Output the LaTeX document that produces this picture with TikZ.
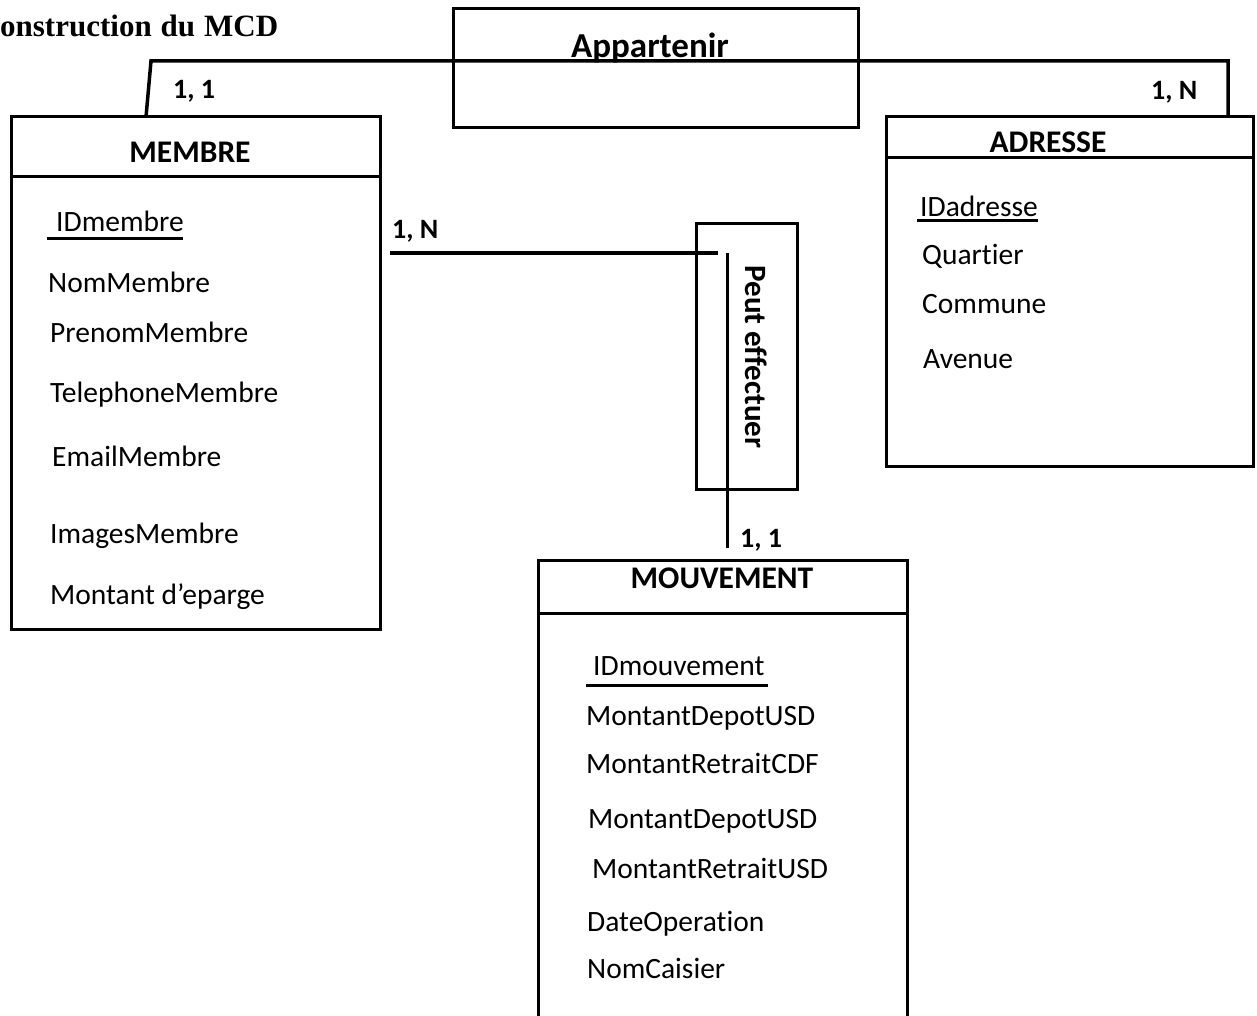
\documentclass[tikz,border=0pt]{standalone}
\usepackage{fontspec}
\setmainfont{Carlito}[Ligatures={NoCommon}]
\newfontfamily\titlefont{Liberation Serif}
\tikzset{
  ent/.style={draw, line width=3pt, inner sep=0pt, outer sep=0pt},
  hline/.style={line width=3pt},
  attr/.style={anchor=base west, inner sep=0pt, font=\fontsize{29.5}{35}\selectfont},
  hdr/.style={anchor=base, inner sep=0pt, font=\bfseries\fontsize{31.5}{37}\selectfont},
  card/.style={anchor=base west, inner sep=0pt, font=\bfseries\fontsize{28}{33}\selectfont},
  conn/.style={line width=3.5pt},
  uline/.style={line width=3pt},
}
\begin{document}
\begin{tikzpicture}[x=1pt,y=-1pt]
\clip (0,0) rectangle (1257,1016);
\fill[white] (0,0) rectangle (1257,1016);

% title
\node[anchor=base west, inner sep=0pt, font=\titlefont\bfseries\fontsize{31}{37}\selectfont] (title) at (0,37) {\spaceskip=9pt onstruction du MCD};

% association boxes
\node[ent, minimum width=405pt, minimum height=119pt] (appbox) at (655.5,68.5) {};
\node[anchor=base, inner sep=0pt, font=\bfseries\fontsize{35}{42}\selectfont] (applbl) at (650,58) {Appartenir};

\node[ent, minimum width=101pt, minimum height=265pt] (peutbox) at (746.5,356.5) {};
\node[rotate=-90, inner sep=0pt, font=\bfseries\fontsize{31}{37}\selectfont] (peutlbl) at (756,357) {Peut effectuer};

% entity boxes
\node[ent, minimum width=369pt, minimum height=512pt] (membre) at (195.5,373) {};
\draw[hline] ([yshift=-60pt]membre.north west) -- ([yshift=-60pt]membre.north east);
\node[hdr] (membrelbl) at (190,163) {MEMBRE};

\node[ent, minimum width=367pt, minimum height=349pt] (adresse) at (1069.5,291.5) {};
\draw[hline] ([yshift=-41pt]adresse.north west) -- ([yshift=-41pt]adresse.north east);
\node[hdr] (adresselbl) at (1048,153) {ADRESSE};

\node[ent, minimum width=369pt, minimum height=480pt] (mouvement) at (722.5,800) {};
\draw[hline] ([yshift=-53pt]mouvement.north west) -- ([yshift=-53pt]mouvement.north east);
\node[hdr] (mouvementlbl) at (722,588) {MOUVEMENT};

% MEMBRE attributes
\node[attr] (idm) at (56,232) {IDmembre};
\coordinate (idmA) at (47,239); \coordinate (idmB) at (183,239);
\draw[uline] (idmA) -- (idmB);
\node[attr] (m1) at (48,292) {NomMembre};
\node[attr] (m2) at (50,342) {PrenomMembre};
\node[attr] (m3) at (50,402) {TelephoneMembre};
\node[attr] (m4) at (52,466) {EmailMembre};
\node[attr] (m5) at (50,543) {ImagesMembre};
\node[attr] (m6) at (50,604) {Montant d’eparge};

% ADRESSE attributes
\node[attr] (ida) at (920,217) {IDadresse};
\coordinate (idaA) at (917,221); \coordinate (idaB) at (1038,221);
\draw[uline] (idaA) -- (idaB);
\node[attr] (a1) at (922,265) {Quartier};
\node[attr] (a2) at (922,313) {Commune};
\node[attr] (a3) at (923,368) {Avenue};

% MOUVEMENT attributes
\node[attr] (idv) at (593,675) {IDmouvement};
\coordinate (idvA) at (586,685); \coordinate (idvB) at (768,685);
\draw[uline] (idvA) -- (idvB);
\node[attr] (v1) at (586,725) {MontantDepotUSD};
\node[attr] (v2) at (586,773) {MontantRetraitCDF};
\node[attr] (v3) at (588,828) {MontantDepotUSD};
\node[attr] (v4) at (592,878) {MontantRetraitUSD};
\node[attr] (v5) at (587,931) {DateOperation};
\node[attr] (v6) at (587,978) {NomCaisier};

% connectors: Appartenir
\coordinate (apM) at (146,117);
\coordinate (apMtop) at (151,61);
\coordinate (apAtop) at (1228,61);
\coordinate (apA) at (1228,117);
\draw[conn] (apM) -- (apMtop) -- (apAtop) -- (apA);
\node[card] (c1) at (173,99) {1, 1};
\node[card] (c3) at (1151,100) {1, N};

% connectors: Peut effectuer
\coordinate (peM) at (390,253);
\coordinate (peB) at (718,253);
\draw[conn] (peM) -- (peB);
\coordinate (peC) at (727,253);
\coordinate (peV) at (727,548);
\draw[line width=3pt] (peC) -- (peV);
\node[card] (c2) at (392,239) {1, N};
\node[card] (c4) at (740,547) {1, 1};
\end{tikzpicture}
\end{document}
